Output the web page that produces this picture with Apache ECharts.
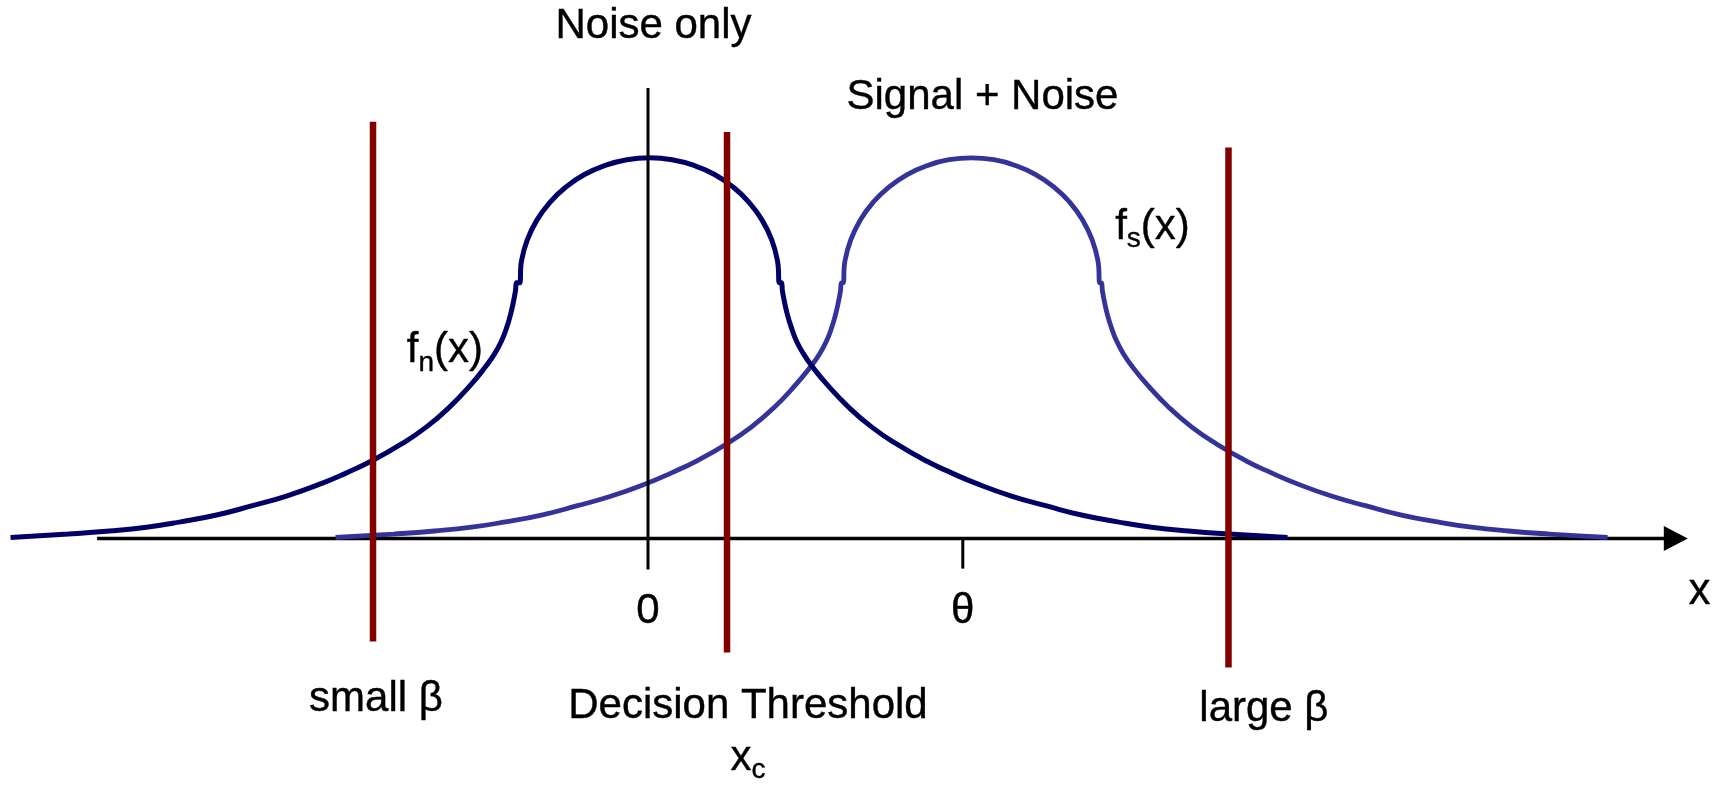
<!DOCTYPE html>
<html>
<head>
<meta charset="utf-8">
<script src="https://cdn.jsdelivr.net/npm/echarts@6/dist/echarts.min.js"></script>
<style>
  html, body { margin: 0; padding: 0; background: #fff; }
  #chart { width: 1727px; height: 786px; }
</style>
</head>
<body>
<div id="chart"></div>
<script>
// Density of the observation under "noise only": [x, f_n(x)]
const noiseCurve = [
  [-4.050, 0.003], [-3.682, 0.012], [-3.421, 0.020], [-3.186, 0.030], [-2.970, 0.044],
  [-2.741, 0.062], [-2.519, 0.086], [-2.297, 0.112], [-2.068, 0.146], [-1.915, 0.173],
  [-1.757, 0.204], [-1.566, 0.249], [-1.407, 0.294], [-1.261, 0.346], [-1.121, 0.407],
  [-1.033, 0.452], [-0.975, 0.486], [-0.931, 0.520], [-0.899, 0.554], [-0.874, 0.589],
  [-0.855, 0.623], [-0.842, 0.652], [-0.835, 0.673],
  [-0.817, 0.673], [-0.804, 0.730], [-0.767, 0.786], [-0.706, 0.838], [-0.623, 0.885],
  [-0.522, 0.925], [-0.404, 0.958], [-0.273, 0.982], [-0.134, 0.997], [0.010, 1.002],
  [0.153, 0.997], [0.292, 0.982], [0.423, 0.958], [0.541, 0.925], [0.642, 0.885],
  [0.725, 0.838], [0.786, 0.786], [0.823, 0.730], [0.836, 0.673],
  [0.848, 0.673], [0.854, 0.652], [0.867, 0.623], [0.886, 0.589], [0.912, 0.554],
  [0.943, 0.520], [0.988, 0.486], [1.045, 0.452], [1.134, 0.407], [1.274, 0.346],
  [1.420, 0.294], [1.579, 0.249], [1.769, 0.204], [1.928, 0.173], [2.081, 0.146],
  [2.309, 0.112], [2.532, 0.086], [2.754, 0.062], [2.983, 0.044], [3.199, 0.030],
  [3.434, 0.020], [3.694, 0.012], [4.063, 0.003]
];

// Density under "signal + noise": [x, f_s(x)]
const signalCurve = [
  [-1.985, 0.003], [-1.617, 0.012], [-1.357, 0.020], [-1.121, 0.030], [-0.905, 0.044],
  [-0.677, 0.062], [-0.454, 0.086], [-0.232, 0.112], [-0.003, 0.146], [0.149, 0.173],
  [0.308, 0.204], [0.499, 0.249], [0.658, 0.294], [0.804, 0.346], [0.943, 0.407],
  [1.032, 0.452], [1.090, 0.486], [1.134, 0.520], [1.166, 0.554], [1.191, 0.589],
  [1.210, 0.623], [1.223, 0.652], [1.229, 0.673],
  [1.239, 0.673], [1.251, 0.730], [1.288, 0.786], [1.348, 0.838], [1.430, 0.885],
  [1.530, 0.925], [1.647, 0.958], [1.776, 0.982], [1.913, 0.997], [2.055, 1.002],
  [2.197, 0.997], [2.334, 0.982], [2.463, 0.958], [2.580, 0.925], [2.680, 0.885],
  [2.762, 0.838], [2.822, 0.786], [2.859, 0.730], [2.871, 0.673],
  [2.881, 0.673], [2.887, 0.652], [2.900, 0.623], [2.919, 0.589], [2.945, 0.554],
  [2.977, 0.520], [3.021, 0.486], [3.078, 0.452], [3.167, 0.407], [3.307, 0.346],
  [3.453, 0.294], [3.612, 0.249], [3.802, 0.204], [3.961, 0.173], [4.114, 0.146],
  [4.342, 0.112], [4.564, 0.086], [4.787, 0.062], [5.016, 0.044], [5.232, 0.030],
  [5.467, 0.020], [5.727, 0.012], [6.096, 0.003]
];

// Threshold positions and the vertical extent of their marker lines
const thresholdX = [-1.747, 0.502, 3.688];
const thresholdTop = [1.097, 1.070, 1.029];
const thresholdBottom = [-0.271, -0.300, -0.339];

// Marker through the noise mean
const noiseMeanX = 0;
const noiseMarkerSpan = [1.186, -0.081];

// Horizontal axis: drawn extent and ticks
const axisSpan = [-3.5, 6.53];
const theta = 2;
const tickValues = [0, theta];
const tickLabels = ['0', 'θ'];

const FONT = "'Liberation Sans', Arial, Helvetica, sans-serif";
const ink = { color: '#000', fontFamily: FONT, textBorderColor: '#000', textBorderWidth: 0.4 };
const rich = {
  m: Object.assign({ fontSize: 42, lineHeight: 52 }, ink),
  s: Object.assign({ fontSize: 28, lineHeight: 35, verticalAlign: 'bottom' }, ink),
  c: Object.assign({ fontSize: 28, lineHeight: 23, verticalAlign: 'bottom' }, ink),
  ax: Object.assign({ fontSize: 44, lineHeight: 52 }, ink)
};

const chart = echarts.init(document.getElementById('chart'), null, { renderer: 'canvas' });

const thresholdSeries = thresholdX.map((x, i) => ({
  type: 'line',
  symbol: 'none',
  clip: false,
  silent: true,
  z: 5,
  lineStyle: { color: '#800000', width: 6.5 },
  data: [[x, thresholdTop[i]], [x, thresholdBottom[i]]]
}));

// text annotations, anchored at their centres
const annotations = [
  { value: [0.035, 1.348], text: '{m|Noise only}' },
  { value: [2.125, 1.161], text: '{m|Signal + Noise}' },
  { value: [-1.290, 0.494], text: '{m|f}{s|n}{m|(x)}' },
  { value: [3.205, 0.820], text: '{m|f}{s|s}{m|(x)}' },
  { value: [-1.728, -0.422], text: '{m|small β}' },
  { value: [0.635, -0.510], text: '{m|Decision Threshold}\n{m|x}{c|c}' },
  { value: [3.913, -0.449], text: '{m|large β}' },
  { value: [6.680, -0.139], text: '{ax|x}' }
].concat(tickValues.map((v, i) => ({ value: [v, -0.191], text: '{m|' + tickLabels[i] + '}' })));

chart.setOption({
  animation: false,
  backgroundColor: '#ffffff',
  grid: { left: 2.66, right: 8.68, top: 6.6, bottom: 19.4, containLabel: false, outerBoundsMode: 'none' },
  xAxis: { type: 'value', min: -4.1, max: 6.8, show: false },
  yAxis: { type: 'value', min: -0.6, max: 1.4, show: false },
  series: [
    {
      // x axis with arrow head
      type: 'line',
      silent: true,
      clip: false,
      z: 1,
      symbol: 'none',
      lineStyle: { color: '#000', width: 3.5 },
      itemStyle: { color: '#000', opacity: 1 },
      data: [
        [axisSpan[0], 0],
        { value: [axisSpan[1], 0], symbol: 'triangle', symbolSize: [25, 24], symbolRotate: -90 }
      ]
    },
    {
      // tick at theta
      type: 'line',
      symbol: 'none',
      silent: true,
      clip: false,
      z: 1,
      lineStyle: { color: '#000', width: 3 },
      data: [[theta, 0], [theta, -0.079]]
    },
    {
      name: 'Signal + Noise',
      type: 'line',
      data: signalCurve,
      symbol: 'none',
      smooth: 0.5,
      clip: false,
      silent: true,
      z: 2,
      lineStyle: { color: '#333399', width: 4.8 }
    },
    {
      name: 'Noise only',
      type: 'line',
      data: noiseCurve,
      symbol: 'none',
      smooth: 0.5,
      clip: false,
      silent: true,
      z: 3,
      lineStyle: { color: '#000066', width: 5 }
    },
    {
      type: 'line',
      symbol: 'none',
      clip: false,
      silent: true,
      z: 4,
      lineStyle: { color: '#000', width: 3 },
      data: [[noiseMeanX, noiseMarkerSpan[0]], [noiseMeanX, noiseMarkerSpan[1]]]
    },
    ...thresholdSeries,
    {
      type: 'scatter',
      symbolSize: 0,
      itemStyle: { color: '#000', opacity: 1 },
      clip: false,
      silent: true,
      z: 6,
      label: {
        show: true,
        position: [0, 0],
        align: 'center',
        verticalAlign: 'middle',
        opacity: 1,
        fontSize: 42,
        lineHeight: 52,
        color: '#000',
        fontFamily: FONT,
        formatter: p => p.data.text,
        rich: rich
      },
      data: annotations
    }
  ]
});
</script>
</body>
</html>
